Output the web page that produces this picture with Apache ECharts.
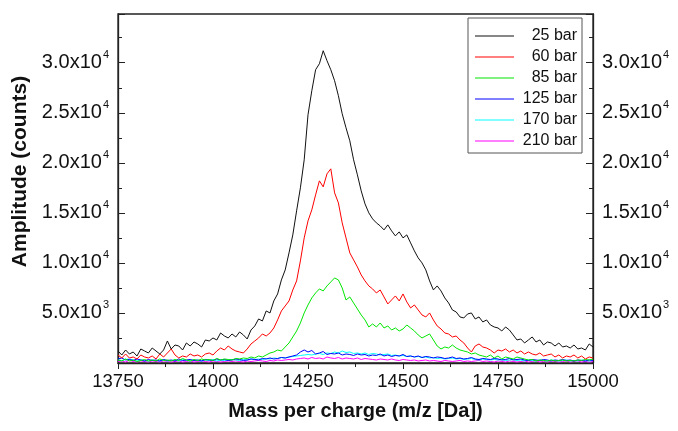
<!DOCTYPE html>
<html>
<head>
<meta charset="utf-8">
<script src="https://cdn.jsdelivr.net/npm/echarts@6/dist/echarts.min.js"></script>
<style>
html,body{margin:0;padding:0;background:#fff}
#chart{width:678px;height:431px}
</style>
</head>
<body>
<div id="chart"></div>
<script>
// m/z grid: 13750..15000 Da, one sample every 10 Da
const mz=Array.from({length:126},(_,i)=>13750+i*10);

const names=["25 bar","60 bar","85 bar","125 bar","170 bar","210 bar"];
const colors=["#111111","#ff0000","#00e600","#0000ff","#00ffff","#ff00ff"];

const bar25=[1200,800,1300,900,1100,700,1400,1200,1000,1500,1200,900,1300,2200,1400,1800,1700,1300,2000,1700,
2100,1900,1600,2300,2200,2500,2300,3000,2700,2500,2900,2600,3100,2800,2400,3300,3700,4400,4200,5200,
5000,6200,6900,8300,9300,11000,12800,15200,17500,20300,24800,27200,29300,29900,31200,30200,29300,28200,26700,24900,
23500,22200,20300,18800,17200,15900,15000,14400,14000,13700,13300,13800,13200,12700,13100,12500,12800,12000,11200,10500,
10000,9300,8200,7300,7700,7200,6500,6000,5300,5100,4600,4500,4900,5000,4400,4600,4100,4300,3800,3600,
3500,3200,3600,3300,2800,2300,2400,2000,2300,2600,2100,2300,1800,2100,2000,1700,2000,1600,1700,1500,
1800,1400,1500,1300,1900,1600];

const bar60=[800,500,900,500,600,400,800,600,500,700,400,900,600,1000,1400,800,500,700,600,900,
700,800,600,900,1000,800,1200,1500,1300,1700,1400,1200,1100,1000,1400,1900,2200,2500,2900,2700,
3000,3500,4300,5200,5700,6200,7300,8200,10200,12500,14200,15300,16800,18200,17600,18900,19400,17000,16000,14000,
12500,11000,10300,9600,8800,8200,7700,7400,7000,7300,6600,5900,6300,6700,6200,6900,6100,5500,5800,5300,
4800,4600,5000,4300,3700,3400,3000,2900,2600,2700,2300,2000,1500,1100,1700,1900,1600,1500,1300,1000,
1300,1200,1400,1100,1300,1000,1200,900,1100,900,800,1000,700,800,900,600,800,500,700,600,
800,500,700,400,600,500];

const bar85=[300,200,400,200,300,150,250,350,200,300,200,400,250,300,200,350,250,450,300,200,
350,250,400,300,350,250,450,300,400,350,300,450,400,500,450,600,500,700,600,800,
1000,1100,1300,1200,1600,2000,2600,3200,4000,5000,5800,6500,7000,7400,7200,7700,8100,8500,8300,7500,
6300,6600,6000,5400,4800,4300,3600,3900,3600,4000,3500,3700,3300,3500,3200,3400,3800,3500,3200,2800,
2500,2700,2900,2300,1700,1400,1600,1500,1800,1500,1300,1200,1100,900,1000,800,700,600,800,500,
700,400,600,500,400,600,500,400,300,350,200,300,250,200,300,200,250,300,200,250,
200,300,250,350,300,400];

const bar125=[400,500,300,350,250,400,300,200,350,250,300,200,350,250,300,200,400,250,300,350,
250,300,200,350,300,250,400,300,350,250,300,400,350,250,300,400,350,300,450,400,
500,400,450,550,500,600,700,800,1100,1300,1100,1250,900,1000,1150,850,950,900,1000,800,
900,850,750,900,800,850,700,800,750,900,700,800,650,750,700,850,650,700,600,700,
550,650,600,500,600,550,450,500,600,450,500,400,450,550,400,350,450,400,350,450,
400,300,350,450,300,350,400,300,250,350,300,250,350,300,200,300,250,350,250,300,
200,300,250,200,300,250];

const bar170=[300,250,350,400,300,200,300,250,200,300,250,200,300,200,250,300,200,350,250,200,
300,250,200,300,250,350,200,300,250,300,350,300,250,350,300,400,350,400,350,450,
400,500,450,550,500,600,650,700,750,800,850,800,900,950,850,1000,950,1100,1000,1200,
1050,1100,950,1000,900,1000,850,950,900,800,850,900,750,800,700,750,650,700,600,650,
550,600,500,550,450,500,400,450,500,400,450,350,400,450,350,300,400,350,300,350,
300,350,250,300,350,250,300,200,300,250,200,300,250,200,300,250,200,250,300,200,
250,200,300,250,200,250];

const bar210=[150,200,100,250,150,100,200,150,100,200,150,100,200,150,100,150,200,100,150,200,
100,150,200,150,100,200,150,100,150,200,150,200,150,100,200,150,200,250,200,150,
250,200,300,250,300,350,300,400,450,500,400,550,450,500,400,600,500,450,550,400,
500,450,400,500,350,450,400,350,300,400,350,300,400,300,250,350,300,250,300,200,
250,300,200,250,200,150,250,200,150,200,250,150,200,150,200,250,150,200,150,100,
200,150,100,200,150,100,150,200,100,150,200,100,150,100,200,150,100,150,200,100,
150,200,100,150,100,150];

const seriesData=[bar25,bar60,bar85,bar125,bar170,bar210];

const yTicks={5000:["5.0x10","3"],10000:["1.0x10","4"],15000:["1.5x10","4"],
  20000:["2.0x10","4"],25000:["2.5x10","4"],30000:["3.0x10","4"]};

const FONT="Liberation Sans, Arial, sans-serif";
const yLabel=v=>yTicks[v]?`{b|${yTicks[v][0]}}{s|${yTicks[v][1]}}`:"";
const rich={b:{fontSize:20,fontFamily:FONT,color:"#111"},
  s:{fontSize:11,fontFamily:FONT,color:"#111",verticalAlign:"top",padding:[0,0,16,1]}};

function yAxis(pos){
  return {
    type:"value",position:pos,min:0,max:34870,interval:5000,
    axisLine:{show:true,lineStyle:{color:"#222",width:1.3}},
    axisTick:{show:true,inside:true,length:7,lineStyle:{color:"#222"}},
    minorTick:{show:true,splitNumber:2,length:4,lineStyle:{color:"#222"}},
    splitLine:{show:false},
    axisLabel:{margin:9,formatter:yLabel,rich:rich,showMaxLabel:false},
    name:pos==="left"?"Amplitude (counts)":"",
    nameLocation:"middle",nameGap:85,nameRotate:90,
    nameTextStyle:{fontSize:21,fontWeight:"bold",fontFamily:FONT,color:"#111",padding:[0,0,0,34]}
  };
}

const chart=echarts.init(document.getElementById("chart"));
chart.setOption({
  animation:false,
  backgroundColor:"#fff",
  grid:{left:118,right:85,top:14,bottom:68,show:true,borderColor:"#222",borderWidth:1.3},
  xAxis:{
    type:"value",min:13750,max:15000,interval:250,
    axisLine:{show:true,onZero:false,lineStyle:{color:"#222",width:1.3}},
    axisTick:{show:true,length:6,lineStyle:{color:"#222"}},
    minorTick:{show:true,splitNumber:2,length:4,lineStyle:{color:"#222"}},
    splitLine:{show:false},
    axisLabel:{margin:9,fontSize:18.5,fontFamily:FONT,color:"#111",formatter:v=>String(v)},
    name:"Mass per charge (m/z [Da])",nameLocation:"middle",nameGap:38,
    nameTextStyle:{fontSize:20,fontWeight:"bold",fontFamily:FONT,color:"#111"}
  },
  yAxis:[yAxis("left"),yAxis("right")],
  legend:{
    orient:"vertical",left:468,top:18,
    padding:[10,5,4,7],itemGap:5,itemWidth:39,itemHeight:14,
    borderColor:"#555",borderWidth:1,backgroundColor:"#fff",
    formatter:n=>`{t|${n}}`,
    textStyle:{rich:{t:{fontSize:16,fontFamily:FONT,color:"#111",width:58,align:"right"}}},
    data:names.map(n=>({name:n,icon:"path://M0,0 L40,0 L40,1 L0,1 Z"}))
  },
  series:names.map((n,k)=>({
    name:n,type:"line",showSymbol:false,symbol:"none",
    data:mz.map((x,i)=>[x,seriesData[k][i]]),
    lineStyle:{color:colors[k],width:1},itemStyle:{color:colors[k]},
    z:10-k
  }))
});
</script>
</body>
</html>
